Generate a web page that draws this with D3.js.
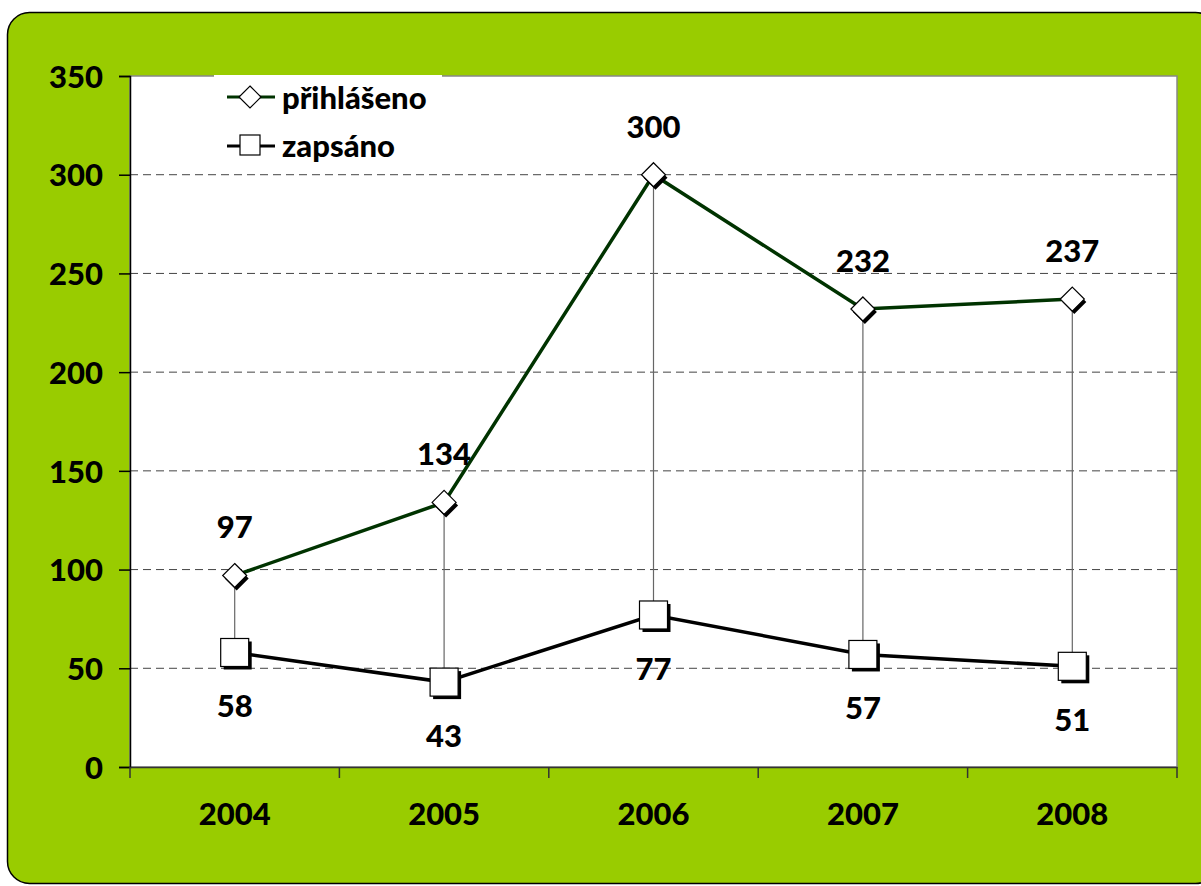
<!DOCTYPE html>
<html>
<head>
<meta charset="utf-8">
<script src="https://d3js.org/d3.v7.min.js"></script>
<style>
  body { margin: 0; background: white; }
  text { font-family: Lato, "Open Sans", sans-serif; font-weight: 900; fill: black; }
</style>
</head>
<body>
<svg id="chart" width="1201" height="886"></svg>
<script>
// data
var years = ["2004", "2005", "2006", "2007", "2008"];
var prihlaseno = [97, 134, 300, 232, 237];
var zapsano = [58, 43, 77, 57, 51];
var yTicks = [0, 50, 100, 150, 200, 250, 300, 350];
var seriesNames = ["přihlášeno", "zapsáno"];

var svg = d3.select("#chart");
var fs = "31px";

// green frame
svg.append("rect")
  .attr("x", 7.5).attr("y", 12.5)
  .attr("width", 1210).attr("height", 871)
  .attr("rx", 22).attr("ry", 22)
  .attr("fill", "#99cc00").attr("stroke", "black").attr("stroke-width", 1.5);

var pLeft = 130, pRight = 1177, pTop = 76, pBottom = 767;

var x = d3.scaleBand().domain(years).range([pLeft, pRight]);
var y = d3.scaleLinear().domain([0, 350]).range([pBottom, pTop]);

// plot area
svg.append("rect")
  .attr("x", pLeft).attr("y", pTop)
  .attr("width", pRight - pLeft).attr("height", pBottom - pTop)
  .attr("fill", "white").attr("stroke", "#888").attr("stroke-width", 1.5);

// grid
svg.append("g").selectAll("line")
  .data(yTicks.filter(function(d) { return d > 0 && d < 350; }))
  .enter().append("line")
  .attr("x1", pLeft).attr("x2", pRight)
  .attr("y1", function(d) { return y(d); }).attr("y2", function(d) { return y(d); })
  .attr("stroke", "#444").attr("stroke-width", 1).attr("stroke-dasharray", "8,5");

// axes
var yAxis = svg.append("g")
  .attr("transform", "translate(" + pLeft + ",0)")
  .call(d3.axisLeft(y).tickValues(yTicks).tickSize(11).tickPadding(16));
yAxis.select(".domain").attr("stroke", "black").attr("stroke-width", 1.5);
yAxis.selectAll(".tick line").attr("stroke", "black").attr("stroke-width", 1.5);
yAxis.selectAll("text").style("font-size", fs).attr("dy", "0.36em");

var xAxis = svg.append("g")
  .attr("transform", "translate(0," + pBottom + ")")
  .call(d3.axisBottom(x).tickSize(0).tickPadding(36));
xAxis.select(".domain").attr("stroke", "#333").attr("stroke-width", 1.5);
xAxis.selectAll("text").style("font-size", fs);
// category separator ticks
xAxis.selectAll("line.sep")
  .data(years.concat(["end"]))
  .enter().append("line").attr("class", "sep")
  .attr("x1", function(d, i) { return pLeft + i * x.step(); })
  .attr("x2", function(d, i) { return pLeft + i * x.step(); })
  .attr("y1", 0).attr("y2", 11)
  .attr("stroke", "#333").attr("stroke-width", 1.5);

function cx(d, i) { return x(years[i]) + x.bandwidth() / 2; }

// drop lines
svg.append("g").selectAll("line")
  .data(prihlaseno)
  .enter().append("line")
  .attr("x1", cx).attr("x2", cx)
  .attr("y1", function(d) { return y(d); })
  .attr("y2", function(d, i) { return y(zapsano[i]); })
  .attr("stroke", "#666").attr("stroke-width", 1.2);

var line = d3.line().x(function(d, i) { return cx(d, i); }).y(function(d) { return y(d); });

svg.append("path").datum(prihlaseno)
  .attr("d", line).attr("fill", "none")
  .attr("stroke", "#003300").attr("stroke-width", 3.5);
svg.append("path").datum(zapsano)
  .attr("d", line).attr("fill", "none")
  .attr("stroke", "black").attr("stroke-width", 3.5);

function diamond(g, px, py, r) {
  g.append("path")
    .attr("d", "M" + (px + 2) + "," + (py - r + 3) + "l" + r + "," + r + "l" + (-r) + "," + r + "l" + (-r) + "," + (-r) + "z")
    .attr("fill", "black");
  g.append("path")
    .attr("d", "M" + px + "," + (py - r) + "l" + r + "," + r + "l" + (-r) + "," + r + "l" + (-r) + "," + (-r) + "z")
    .attr("fill", "white").attr("stroke", "black").attr("stroke-width", 1.2);
}
function square(g, px, py, h) {
  g.append("rect").attr("x", px - h + 3).attr("y", py - h + 3)
    .attr("width", 2 * h).attr("height", 2 * h).attr("fill", "black");
  g.append("rect").attr("x", px - h).attr("y", py - h)
    .attr("width", 2 * h).attr("height", 2 * h)
    .attr("fill", "white").attr("stroke", "black").attr("stroke-width", 1.2);
}

var marks = svg.append("g");
prihlaseno.forEach(function(d, i) { diamond(marks, cx(d, i), y(d), 12); });
zapsano.forEach(function(d, i) { square(marks, cx(d, i), y(d), 14); });

// data labels
svg.append("g").selectAll("text")
  .data(prihlaseno).enter().append("text")
  .attr("x", cx).attr("y", function(d) { return y(d) - 37; })
  .attr("text-anchor", "middle").style("font-size", fs)
  .text(function(d) { return d; });
svg.append("g").selectAll("text")
  .data(zapsano).enter().append("text")
  .attr("x", cx).attr("y", function(d) { return y(d) + 65; })
  .attr("text-anchor", "middle").style("font-size", fs)
  .text(function(d) { return d; });

// legend
var lg = svg.append("g");
lg.append("rect").attr("x", 214).attr("y", pTop - 1).attr("width", 228).attr("height", 95).attr("fill", "white");
lg.append("line").attr("x1", 227).attr("x2", 275).attr("y1", 97).attr("y2", 97)
  .attr("stroke", "#003300").attr("stroke-width", 3);
lg.append("path").attr("d", "M250,86l11,11l-11,11l-11,-11z")
  .attr("fill", "white").attr("stroke", "black").attr("stroke-width", 1.2);
lg.append("line").attr("x1", 227).attr("x2", 275).attr("y1", 146).attr("y2", 146)
  .attr("stroke", "black").attr("stroke-width", 3);
lg.append("rect").attr("x", 240).attr("y", 135).attr("width", 20).attr("height", 20)
  .attr("fill", "white").attr("stroke", "black").attr("stroke-width", 1.2);
lg.selectAll("text.leg").data(seriesNames).enter().append("text")
  .attr("class", "leg")
  .attr("x", 282).attr("y", function(d, i) { return 109 + i * 48; })
  .style("font-size", fs)
  .text(function(d) { return d; });
</script>
</body>
</html>
